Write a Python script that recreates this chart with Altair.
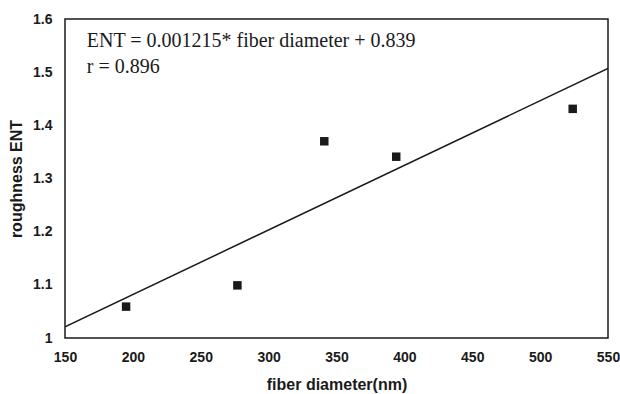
import altair as alt
import pandas as pd

# data
fiber_diameter = [195, 277, 341, 394, 524]
roughness_ent = [1.059, 1.099, 1.370, 1.341, 1.431]

fit_x = [150, 550]
fit_y = [1.021, 1.507]

ann_lines = ["ENT = 0.001215* fiber diameter + 0.839", "r = 0.896"]
ann_x = [166, 166]
ann_y = [1.548, 1.498]

x_ticks = [150, 200, 250, 300, 350, 400, 450, 500, 550]
y_ticks = [1.0, 1.1, 1.2, 1.3, 1.4, 1.5, 1.6]

pts = pd.DataFrame({"x": fiber_diameter, "y": roughness_ent})
fit = pd.DataFrame({"x": fit_x, "y": fit_y})
ann = pd.DataFrame({"x": ann_x, "y": ann_y, "t": ann_lines})

xscale = alt.Scale(domain=[150, 550], nice=False, zero=False)
yscale = alt.Scale(domain=[1.0, 1.6], nice=False, zero=False)

xaxis = alt.Axis(
    title="fiber diameter(nm)", values=x_ticks, ticks=False, domain=False, grid=False,
    labelFont="Liberation Sans", labelFontWeight="bold", labelFontSize=14, labelColor="#1a1a1a",
    labelPadding=12, labelFlush=False,
    titleFont="Liberation Sans", titleFontWeight="bold", titleFontSize=16, titleColor="#1a1a1a",
    titleX=271.5, titleY=46, titleBaseline="middle", titleAlign="center",
)
yaxis = alt.Axis(
    title="roughness ENT", values=y_ticks, ticks=False, domain=False, grid=False,
    labelFont="Liberation Sans", labelFontWeight="bold", labelFontSize=14, labelColor="#1a1a1a",
    labelPadding=13, labelFlush=False,
    labelExpr="datum.value == 1 ? '1' : format(datum.value, '.1f')",
    titleFont="Liberation Sans", titleFontWeight="bold", titleFontSize=16, titleColor="#1a1a1a",
    titleX=-49, titleY=159.5, titleBaseline="middle", titleAlign="center", titleAngle=-90,
)

line = alt.Chart(fit).mark_line(color="#1a1a1a", strokeWidth=1.5, clip=True).encode(
    x=alt.X("x:Q", scale=xscale, axis=xaxis),
    y=alt.Y("y:Q", scale=yscale, axis=yaxis),
)
points = alt.Chart(pts).mark_square(color="#1a1a1a", size=72, opacity=1).encode(
    x=alt.X("x:Q", scale=xscale),
    y=alt.Y("y:Q", scale=yscale),
)
text = alt.Chart(ann).mark_text(
    font="Liberation Serif", fontSize=20, align="left", baseline="alphabetic", color="#1a1a1a"
).encode(
    x=alt.X("x:Q", scale=xscale),
    y=alt.Y("y:Q", scale=yscale),
    text="t:N",
)

chart = (
    alt.layer(line, points, text)
    .properties(
        width=543, height=319,
        autosize=alt.AutoSizeParams(type="none"),
        padding={"left": 65, "top": 19, "right": 12, "bottom": 56},
        background="white",
    )
    .configure_view(stroke="#1a1a1a", strokeWidth=1.5)
)

chart.save("out.html", embed_options={"renderer": "svg", "actions": False})
